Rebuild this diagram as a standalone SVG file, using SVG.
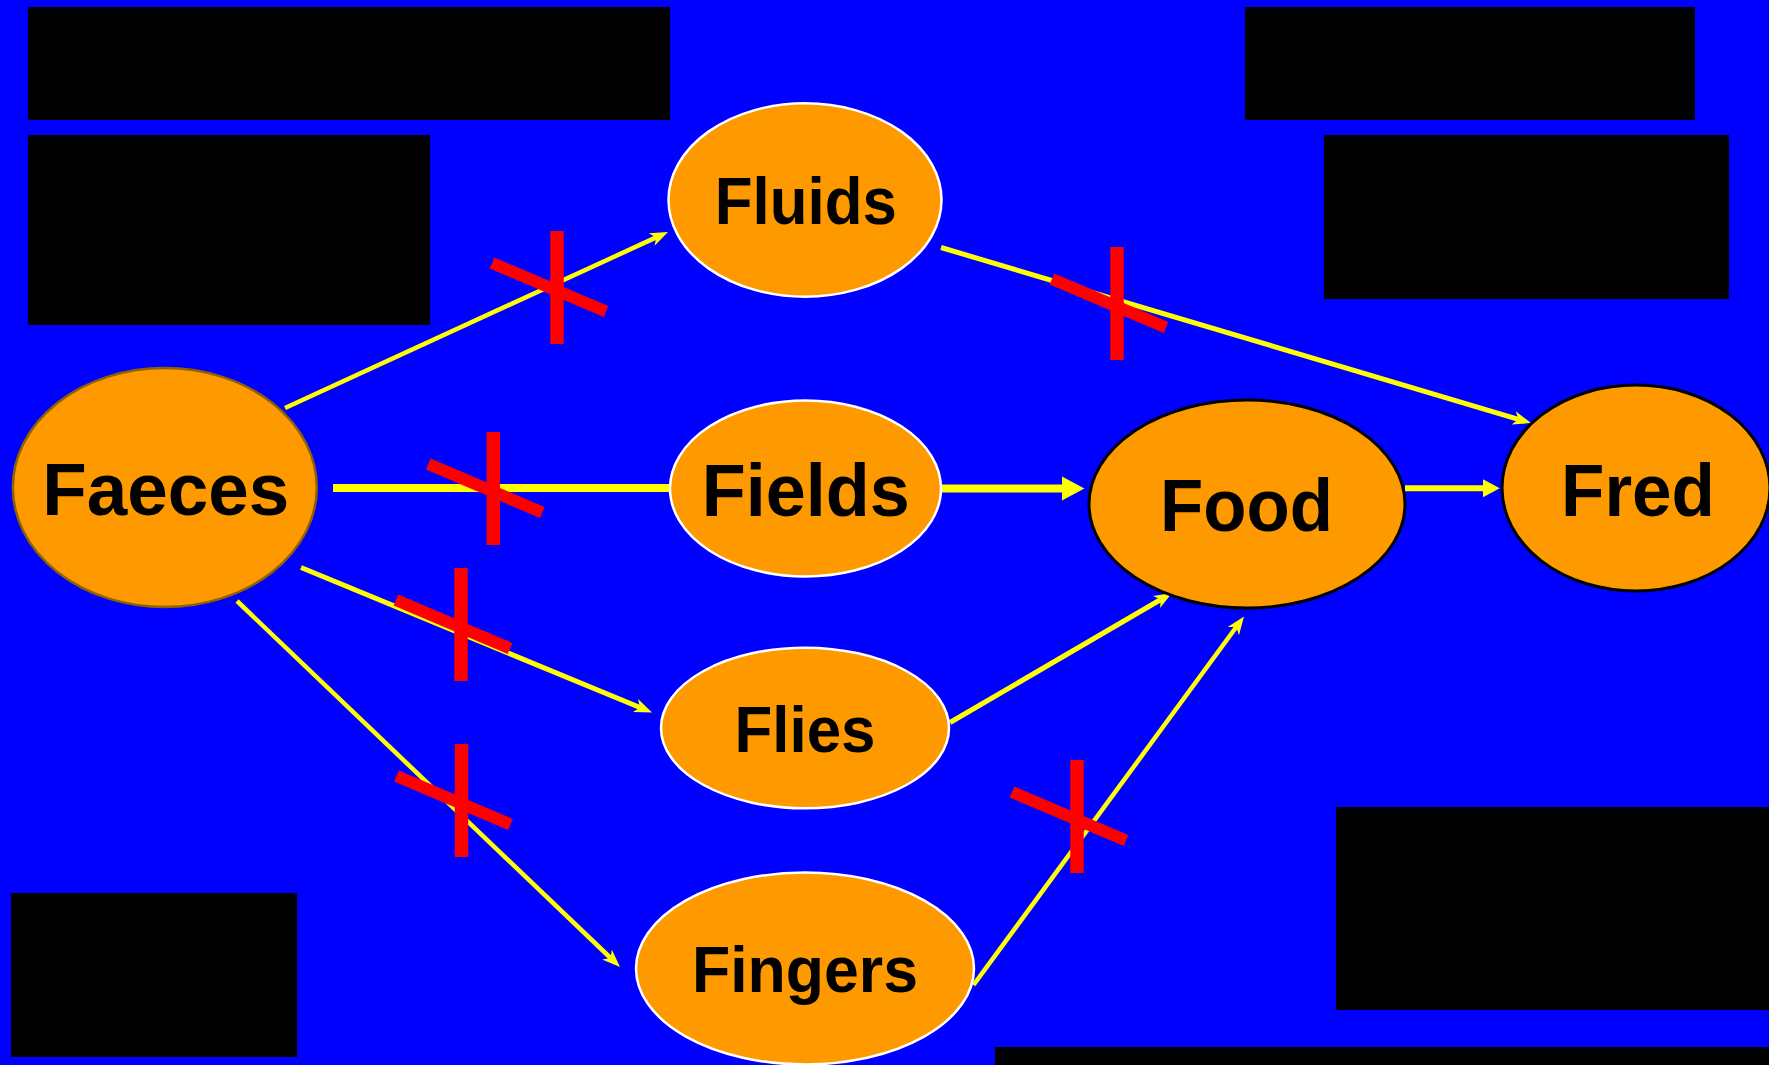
<svg xmlns="http://www.w3.org/2000/svg" xmlns:xlink="http://www.w3.org/1999/xlink" width="1769" height="1065" viewBox="0 0 1769 1065">
<style>
.bg{fill:#0000FF}
.box{fill:#000000}
.node{fill:#FF9900}
.w{stroke:#FFFFFF;stroke-width:2.5}
.k{stroke:#000000;stroke-width:3}
.b{stroke:#8F6200;stroke-width:2.5}
.lbl{font-family:"Liberation Sans",Arial,sans-serif;font-weight:bold;fill:#000000;text-anchor:middle}
.c{stroke:#FFFF00;fill:none}
.x{stroke:#FF0000;fill:none}
</style>
<defs>
<marker id="ah" viewBox="0 -8 20 16" markerWidth="20" markerHeight="16" refX="5" refY="0" orient="auto" markerUnits="userSpaceOnUse">
<path d="M0,-7 L18,0 L0,7 L5,0 z" fill="#FFFF00"/>
</marker>
<marker id="tri" viewBox="0 -2 3 4" markerWidth="3" markerHeight="4" refX="0" refY="0" orient="auto" markerUnits="strokeWidth">
<path d="M0,-1.5 L2.8,0 L0,1.5 z" fill="#FFFF00"/>
</marker>
<g id="xmark">
<path class="x" d="M0,0 V113" stroke-width="13.5"/>
<path class="x" d="M-65,32 L49,80.5" stroke-width="12"/>
</g>
</defs>
<rect class="bg" x="0" y="0" width="1769" height="1065"/>
<g id="boxes">
<rect class="box" x="28" y="7" width="642" height="113"/>
<rect class="box" x="28" y="135" width="402" height="190"/>
<rect class="box" x="1245" y="7" width="450" height="113"/>
<rect class="box" x="1324" y="135" width="405" height="164"/>
<rect class="box" x="11" y="893" width="286" height="164"/>
<rect class="box" x="1336" y="807" width="433" height="203"/>
<rect class="box" x="995" y="1047" width="774" height="18"/>
</g>
<g id="connectors">
<path class="c" d="M285,408 L656.2,237.4" stroke-width="4.5" marker-end="url(#ah)"/>
<path class="c" d="M941,247.5 L1518.5,419.3" stroke-width="5" marker-end="url(#ah)"/>
<path class="c" d="M333,488 L672,488" stroke-width="8"/>
<path class="c" d="M941,488.5 L1062,488.5" stroke-width="8" marker-end="url(#tri)"/>
<path class="c" d="M1405,488.3 L1483,488.3" stroke-width="6" marker-end="url(#tri)"/>
<path class="c" d="M301,567.5 L640,707.5" stroke-width="5" marker-end="url(#ah)"/>
<path class="c" d="M237,601 L610.6,958" stroke-width="4.5" marker-end="url(#ah)"/>
<path class="c" d="M950,722.5 L1160.8,599.5" stroke-width="5" marker-end="url(#ah)"/>
<path class="c" d="M973.5,985 L1236.3,627" stroke-width="4.5" marker-end="url(#ah)"/>
</g>
<g id="node-faeces">
<ellipse class="node b" cx="164.8" cy="487.5" rx="152" ry="119.5"/>
<text class="lbl" x="165.7" y="515" font-size="75" textLength="247" lengthAdjust="spacingAndGlyphs">Faeces</text>
</g>
<g id="node-fluids">
<ellipse class="node w" cx="805" cy="200" rx="136.5" ry="96.7"/>
<text class="lbl" x="805.8" y="224" font-size="66" textLength="182" lengthAdjust="spacingAndGlyphs">Fluids</text>
</g>
<g id="node-fields">
<ellipse class="node w" cx="805.5" cy="488.5" rx="135.5" ry="88"/>
<text class="lbl" x="805.8" y="515.7" font-size="75" textLength="208" lengthAdjust="spacingAndGlyphs">Fields</text>
</g>
<g id="node-flies">
<ellipse class="node w" cx="805" cy="728" rx="144" ry="80.3"/>
<text class="lbl" x="805" y="752" font-size="65" textLength="141" lengthAdjust="spacingAndGlyphs">Flies</text>
</g>
<g id="node-fingers">
<ellipse class="node w" cx="805" cy="968.5" rx="169" ry="96"/>
<text class="lbl" x="805" y="992" font-size="64" textLength="226" lengthAdjust="spacingAndGlyphs">Fingers</text>
</g>
<g id="node-food">
<ellipse class="node k" cx="1247" cy="504" rx="158" ry="104"/>
<text class="lbl" x="1246.5" y="531" font-size="75" textLength="173" lengthAdjust="spacingAndGlyphs">Food</text>
</g>
<g id="node-fred">
<ellipse class="node k" cx="1636" cy="488" rx="134" ry="103"/>
<text class="lbl" x="1638" y="515.5" font-size="75" textLength="154" lengthAdjust="spacingAndGlyphs">Fred</text>
</g>
<g id="crosses">
<use xlink:href="#xmark" href="#xmark" transform="translate(557,231)"/>
<use xlink:href="#xmark" href="#xmark" transform="translate(1117,247)"/>
<use xlink:href="#xmark" href="#xmark" transform="translate(493.3,432)"/>
<use xlink:href="#xmark" href="#xmark" transform="translate(461,568)"/>
<use xlink:href="#xmark" href="#xmark" transform="translate(461.5,744)"/>
<use xlink:href="#xmark" href="#xmark" transform="translate(1077,760)"/>
</g>
</svg>
